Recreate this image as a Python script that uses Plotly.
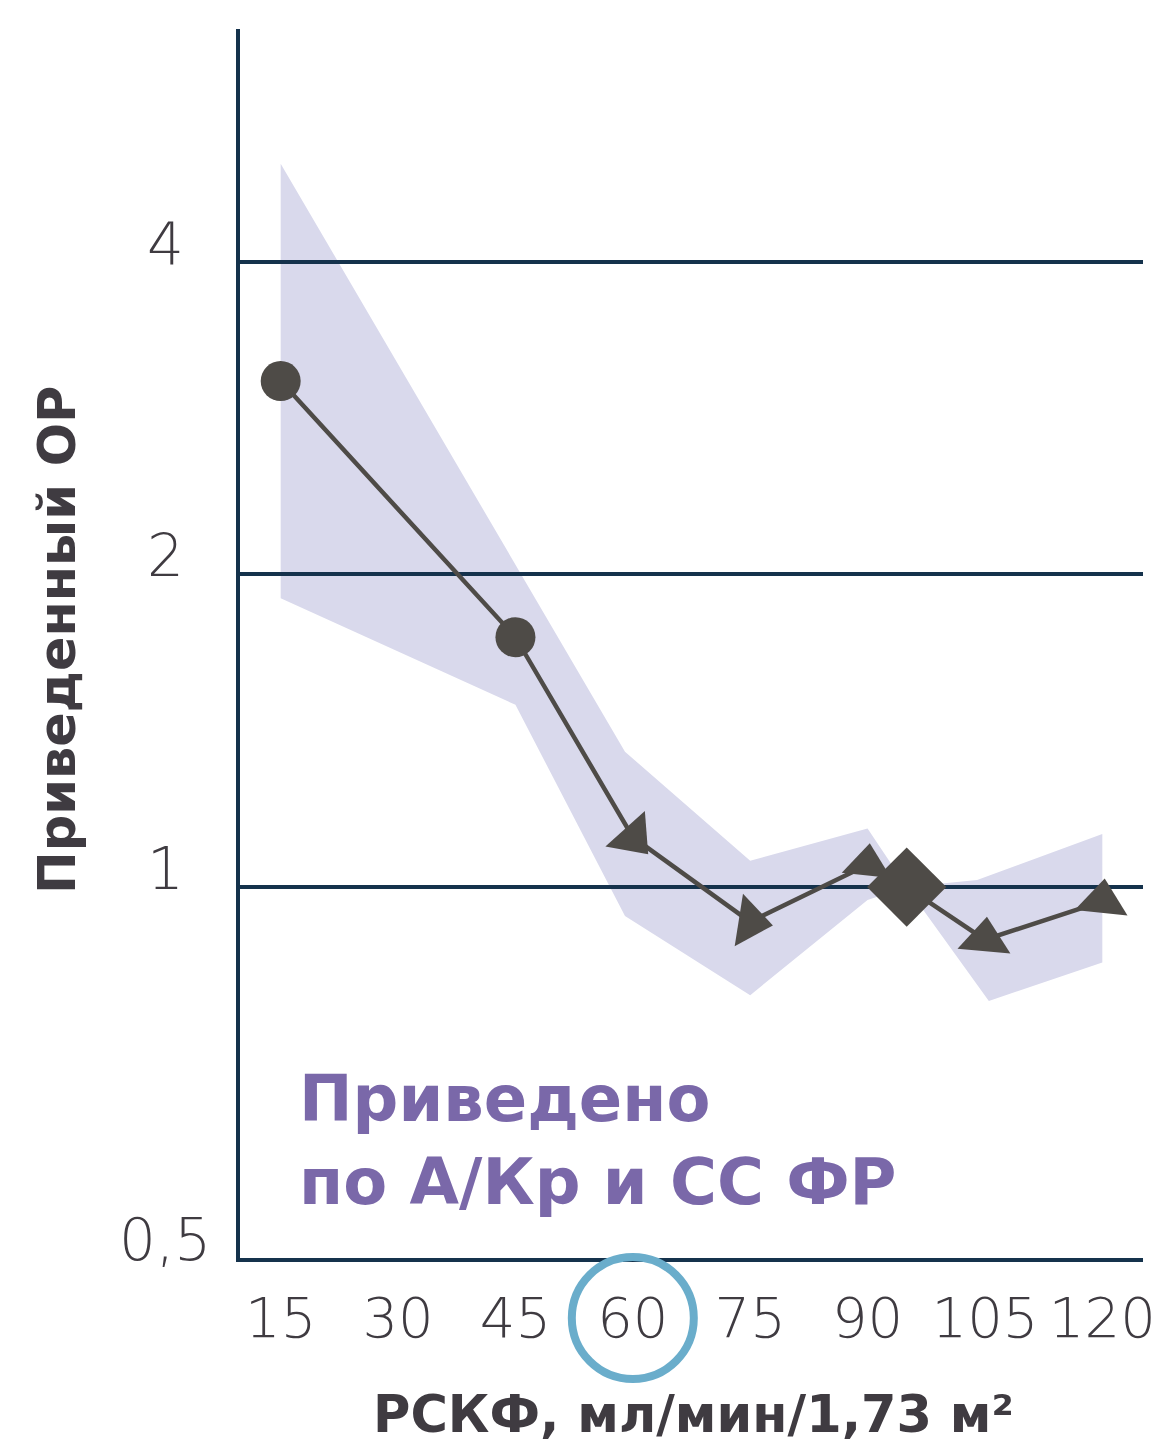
import math
import plotly.graph_objects as go

# eGFR categories (ml/min/1.73 m2) and adjusted odds ratios
egfr = [15, 45, 60, 75, 90, 95, 105, 120]
odds_ratio = [3.07, 1.74, 1.117, 0.926, 1.051, 1.0, 0.890, 0.969]
marker_symbol = ["circle", "circle", "triangle-up", "triangle-up", "triangle-up",
                 "diamond", "triangle-up", "triangle-up"]
marker_size = [40, 40, 46, 46, 43, 61, 46, 46]
marker_angle = [0, 0, 138, 99, 6, 0, 5, 6]

# 95% confidence band, upper and lower edges
band_upper_x = [15, 59, 75, 90, 95, 104, 120]
band_upper_y = [4.97, 1.35, 1.06, 1.139, 1.0, 1.016, 1.125]
band_lower_x = [15, 45, 59, 75, 90, 95, 105.5, 120]
band_lower_y = [1.897, 1.498, 0.938, 0.787, 0.972, 1.0, 0.777, 0.846]

# axes
x_tick_vals = [15, 30, 45, 60, 75, 90, 105, 120]
x_tick_text = ["15", "30", "45", "60", "75", "90", "105", "120"]
x_range = [9.8, 125.2]
y_floor, y_top = 0.4395, 6.70
y_grid_vals = [1, 2, 4]
y_label_vals = [y_floor, 1, 2, 4]          # the axis floor carries the 0,5 label
y_label_text = ["0,5", "1", "2", "4"]
highlight_egfr = 60

NAVY = "#15324c"
INK = "#4e4b47"
TEXT = "#3f3b41"
BAND = "#d9d9ec"
PURPLE = "#7a68a9"
RING = "#6aadcb"

LIGHT = "DejaVu Sans ExtraLight, DejaVu Sans Light, DejaVu Sans"
BOLD = "DejaVu Sans"

W, H = 1174, 1443
L, R, T, B = 240, 31, 29, 185
plot_w = W - L - R
plot_h = H - T - B


def px_to_paper_x(px):
    return (px - L) / plot_w


def px_to_paper_y(py):
    return (H - B - py) / plot_h


fig = go.Figure()

fig.add_trace(go.Scatter(
    x=egfr, y=odds_ratio, mode="lines+markers",
    line=dict(color=INK, width=4.5),
    marker=dict(symbol=marker_symbol, size=marker_size, angle=marker_angle,
                color=INK, opacity=1, line=dict(width=0)),
    hoverinfo="x+y", showlegend=False,
))

# confidence band as a closed path beneath the gridlines
pts = list(zip(band_upper_x, band_upper_y)) + list(zip(band_lower_x, band_lower_y))[::-1]
path = "M " + " L ".join(f"{x},{y}" for x, y in pts) + " Z"
shapes = [dict(type="path", path=path, xref="x", yref="y", layer="below",
               fillcolor=BAND, line=dict(width=0))]

# ring around the 60 ml/min tick label
shapes.append(dict(type="circle", xref="x", yref="paper",
                   xsizemode="pixel", ysizemode="pixel",
                   xanchor=highlight_egfr, yanchor=px_to_paper_y(1318),
                   x0=-61, x1=61, y0=-61, y1=61,
                   line=dict(color=RING, width=8), layer="above"))

annotations = []
y_tick_font = dict(family=LIGHT, size=58, color=TEXT, weight=200)
x_tick_font = dict(family=LIGHT, size=56, color=TEXT, weight=200)
for v, t in zip(y_label_vals, y_label_text):
    annotations.append(dict(x=px_to_paper_x(165), xref="paper",
                            y=math.log10(v), yref="y", yshift=18,
                            text=t, showarrow=False, xanchor="center",
                            yanchor="middle", font=y_tick_font))

annotations.append(dict(x=px_to_paper_x(57), xref="paper",
                        y=px_to_paper_y(640), yref="paper",
                        text="Приведенный ОР", textangle=-90, showarrow=False,
                        xanchor="center", yanchor="middle",
                        font=dict(family=BOLD, size=51, color=TEXT, weight=700)))

annotations.append(dict(x=px_to_paper_x(693), xref="paper",
                        y=px_to_paper_y(1414), yref="paper",
                        text="РСКФ, мл/мин/1,73 м²", showarrow=False,
                        xanchor="center", yanchor="middle",
                        font=dict(family=BOLD, size=51, color=TEXT, weight=700)))

note_font = dict(family=BOLD, size=64, color=PURPLE, weight=700)
for line_text, cy in [("Приведено", 1099), ("по А/Кр и СС ФР", 1182)]:
    annotations.append(dict(x=px_to_paper_x(297), xref="paper",
                            y=px_to_paper_y(cy), yref="paper",
                            text=line_text, showarrow=False,
                            xanchor="left", yanchor="middle", font=note_font))

fig.update_layout(
    width=W, height=H,
    margin=dict(l=L, r=R, t=T, b=B),
    paper_bgcolor="white", plot_bgcolor="white",
    shapes=shapes, annotations=annotations,
    xaxis=dict(range=x_range, tickvals=x_tick_vals, ticktext=x_tick_text,
               showgrid=False, zeroline=False, showline=True,
               linecolor=NAVY, linewidth=4, ticks="",
               ticklabelstandoff=8, tickfont=x_tick_font),
    yaxis=dict(type="log", range=[math.log10(y_floor), math.log10(y_top)],
               tickvals=y_grid_vals, showticklabels=False,
               showgrid=True, gridcolor=NAVY, gridwidth=4,
               zeroline=False, showline=True, linecolor=NAVY, linewidth=4,
               ticks=""),
)

fig.write_html("out.html")
